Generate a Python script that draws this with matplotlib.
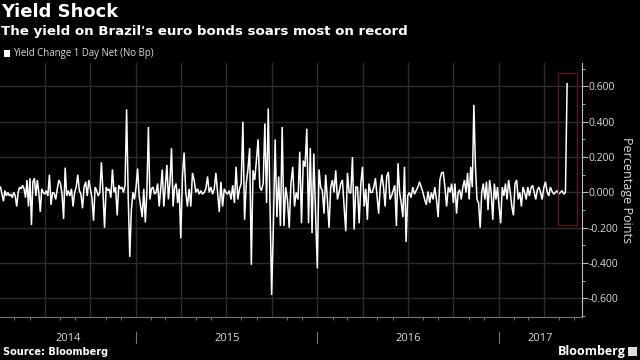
import matplotlib
matplotlib.use("Agg")
import matplotlib.pyplot as plt
import matplotlib.dates as mdates
import matplotlib.transforms as mtransforms
from matplotlib.patches import Rectangle
import numpy as np
import pandas as pd

# Quarterly segment boundaries (dates) and readings of daily yield change (pct pts)
segment_bounds = ["2014-04-03", "2014-07-01", "2014-10-01", "2015-01-01", "2015-04-01",
                  "2015-07-01", "2015-10-01", "2016-01-01", "2016-04-01", "2016-07-01",
                  "2016-10-01", "2017-01-01", "2017-04-01", "2017-05-18"]

q2_2014 = [0.03, -0.01, -0.05, 0.01, -0.02, 0.0, -0.02, -0.01, -0.03, 0.0, -0.02, -0.08, 0.0, 0.03, 0.02,
           0.04, 0.02, -0.03, 0.07, -0.08, 0.08, -0.185, 0.06, 0.08, -0.02, 0.07, 0.0, -0.11, 0.02, 0.0]
q3_2014 = [-0.01, 0.01, -0.02, 0.10, -0.07, 0.0, -0.005, -0.04, 0.02, 0.07, 0.05, -0.01, -0.15, 0.14, -0.02,
           0.01, -0.02, 0.02, -0.08, 0.0, 0.03, 0.10, 0.01, -0.01, -0.09, 0.03, 0.06, -0.02, 0.07]
q4_2014 = [0.02, -0.03, -0.16, 0.03, 0.01, -0.02, 0.0, 0.17, 0.0, -0.20, 0.03, 0.01, 0.02, -0.03, 0.13,
           0.0, 0.03, -0.13, 0.04, 0.02, 0.03, 0.0, 0.04, 0.47, -0.02, -0.365, -0.10, 0.0, -0.04]
q1_2015 = [0.03, 0.135, -0.02, -0.08, -0.14, 0.02, -0.17, 0.0, 0.37, -0.04, 0.02, 0.03, -0.01, 0.0, 0.05,
           -0.08, 0.02, 0.13, -0.08, 0.04, 0.155, -0.04, 0.06, 0.25, -0.08, 0.03, 0.05, -0.06, 0.02]
q2_2015 = [-0.26, 0.09, 0.225, 0.0, -0.08, 0.02, -0.08, 0.11, 0.07, 0.0, 0.02, -0.01, 0.01, -0.01, 0.0,
           0.02, 0.09, 0.0, 0.03, -0.01, 0.02, 0.11, 0.0, -0.11, 0.06, -0.08, 0.02]
q3_2015 = [0.0, -0.01, 0.01, -0.04, 0.04, -0.06, 0.145, -0.04, 0.02, 0.05, 0.40, -0.155, 0.05, 0.13, 0.25,
           -0.41, 0.125, 0.07, 0.18, 0.30, 0.03, 0.01, 0.05, 0.39, -0.06, 0.475, -0.04]
q4_2015 = [-0.58, -0.19, 0.30, -0.14, 0.09, -0.19, 0.37, -0.19, 0.03, -0.04, -0.20, 0.05, 0.145, -0.08, 0.0,
           -0.04, 0.23, -0.175, 0.18, 0.145, 0.36, -0.175, 0.25, -0.23, 0.22, -0.12]
q1_2016 = [-0.43, 0.13, 0.03, 0.01, -0.12, 0.10, -0.04, -0.20, 0.03, 0.07, 0.0, 0.125, -0.04, 0.0, 0.05,
           0.07, -0.08, -0.22, 0.11, 0.0, -0.005, 0.20, -0.21, 0.03, 0.03, -0.175, 0.05]
q2_2016 = [0.145, -0.08, 0.02, -0.155, 0.05, 0.0, 0.0, 0.03, 0.08, -0.02, -0.12, 0.03, 0.10, 0.03, -0.08,
           0.09, 0.115, -0.04, -0.02, 0.01, 0.04, -0.19, 0.165, 0.0, -0.06, -0.14, 0.145, -0.28]
q3_2016 = [-0.02, 0.0, -0.03, 0.03, -0.01, 0.01, 0.03, 0.06, 0.03, 0.0, -0.04, -0.07, 0.005, -0.06, 0.0,
           -0.04, 0.03, -0.04, -0.14, 0.07, 0.11, 0.115, 0.03, -0.08, 0.03, 0.0, 0.05]
q4_2016 = [-0.06, 0.05, -0.12, 0.0, 0.015, -0.04, 0.03, 0.07, 0.0, 0.11, -0.04, 0.145, 0.03, 0.495, 0.145,
           -0.04, -0.06, -0.20, 0.0, 0.05, -0.04, 0.06, -0.10, 0.07, 0.0, -0.155, 0.05, -0.04, 0.03]
q1_2017 = [-0.08, -0.175, 0.03, -0.02, 0.05, -0.04, 0.07, 0.0, -0.08, -0.13, 0.05, 0.07, -0.04, 0.0, -0.08,
           0.03, 0.0, -0.04, 0.03, -0.02, 0.025, 0.04, 0.0, -0.04, 0.015, 0.03, 0.0, -0.04]
q2_2017 = [0.025, 0.06, 0.005, -0.02, 0.03, 0.005, -0.01, 0.0, 0.01, -0.01, 0.0, 0.01, -0.01, 0.0, 0.615]

segments = [q2_2014, q3_2014, q4_2014, q1_2015, q2_2015, q3_2015, q4_2015,
            q1_2016, q2_2016, q3_2016, q4_2016, q1_2017, q2_2017]

y_ticks = [-0.6, -0.4, -0.2, 0.0, 0.2, 0.4, 0.6]
year_labels = ["2014", "2015", "2016", "2017"]

# Build dates: spread each quarter's readings evenly across that quarter
dates, values = [], []
for i, seg in enumerate(segments):
    s = pd.Timestamp(segment_bounds[i])
    e = pd.Timestamp(segment_bounds[i + 1])
    last = (i == len(segments) - 1)
    d = pd.date_range(s, e, periods=len(seg) + (0 if last else 1))
    if not last:
        d = d[:-1]
    dates.extend(d)
    values.extend(seg)

BG = "black"
GRID = "#2b2b2b"
TXT = "#d8d8d8"

fig = plt.figure(figsize=(6.4, 3.6), dpi=100, facecolor=BG)
ax = fig.add_axes([0, 1 - 317 / 360, 582 / 640, (317 - 63) / 360], facecolor=BG)

xmin, xmax = pd.Timestamp("2014-04-02"), pd.Timestamp("2017-06-17")
ax.set_xlim(xmin, xmax)
ax.set_ylim(-0.705, 0.732)

ax.plot(dates, values, color="white", linewidth=1.1, solid_joinstyle="miter")

# grid
ax.xaxis.set_major_locator(mdates.MonthLocator(bymonth=[1, 4, 7, 10]))
ax.xaxis.set_minor_locator(mdates.MonthLocator())
ax.set_yticks(y_ticks)
ax.yaxis.set_minor_locator(matplotlib.ticker.MultipleLocator(0.1))
ax.grid(True, which="major", color=GRID, linewidth=1.0)
ax.set_axisbelow(True)

ax.tick_params(axis="x", which="major", length=0, labelbottom=False)
ax.tick_params(axis="x", which="minor", length=2, color="#888888", direction="out")
ax.yaxis.tick_right()
ax.tick_params(axis="y", which="major", length=4, color="#bbbbbb", labelcolor=TXT,
               labelsize=7.5, pad=1)
ax.tick_params(axis="y", which="minor", length=2.5, color="#bbbbbb")
ax.yaxis.set_major_formatter(matplotlib.ticker.FuncFormatter(lambda v, p: f"{v:.3f}".replace("-0.000", "0.000")))
for lab in ax.get_yticklabels():
    lab.set_family("Open Sans")

for s in ["left", "top"]:
    ax.spines[s].set_visible(False)
ax.spines["right"].set_color("#bbbbbb")
ax.spines["bottom"].set_color("#777777")

ax.yaxis.set_label_position("right")
ax.set_ylabel("Percentage Points", color=TXT, fontsize=9, family="Open Sans",
              rotation=270, labelpad=10)

# Year separators and labels
trans = mtransforms.blended_transform_factory(ax.transData, ax.transAxes)
for y in year_labels:
    start = max(pd.Timestamp(f"{y}-01-01"), xmin)
    end = min(pd.Timestamp(f"{int(y) + 1}-01-01"), xmax)
    mid = start + (end - start) / 2
    ax.text(mid, -0.083, y, transform=trans, ha="center", va="center",
            color=TXT, fontsize=8, family="Open Sans")
    if pd.Timestamp(f"{y}-01-01") > xmin:
        ax.plot([pd.Timestamp(f"{y}-01-01")] * 2, [-0.059, -0.102], transform=trans,
                color="#777777", linewidth=0.8, clip_on=False)

# Highlight box around the latest spike
ax.add_patch(Rectangle((mdates.date2num(pd.Timestamp("2017-04-30")), -0.184),
                       mdates.date2num(pd.Timestamp("2017-06-07")) - mdates.date2num(pd.Timestamp("2017-04-30")),
                       0.86, fill=False, edgecolor="#5e1717", linewidth=1.0, zorder=3))

# Titles
fig.text(0.002, 1 - 12 / 360, "Yield Shock", color="white", fontsize=13,
         fontweight="bold", family="DejaVu Sans", va="center", ha="left")
fig.text(0.002, 1 - 31 / 360, "The yield on Brazil's euro bonds soars most on record",
         color="white", fontsize=9.6, fontweight="bold", family="DejaVu Sans", va="center", ha="left")
fig.patches.append(Rectangle((4 / 640, 1 - 56.5 / 360), 6 / 640, 6 / 360, transform=fig.transFigure,
                             facecolor="white", edgecolor="none"))
fig.text(13 / 640, 1 - 53.5 / 360, "Yield Change 1 Day Net (No Bp)", color=TXT, fontsize=6.9,
         family="Open Sans", va="center", ha="left")

fig.text(3 / 640, 1 - 352 / 360, "Source: Bloomberg", color="white", fontsize=7,
         fontweight="bold", family="DejaVu Sans", va="center", ha="left")
fig.text(626 / 640, 1 - 351 / 360, "Bloomberg", color="white", fontsize=9,
         fontweight="bold", family="Open Sans", va="center", ha="right")
fig.patches.append(Rectangle((628 / 640, 1 - 356 / 360), 9 / 640, 9 / 360, transform=fig.transFigure,
                             facecolor="#dddddd", edgecolor="none"))

fig.savefig("out.png", dpi=100, facecolor=BG)
